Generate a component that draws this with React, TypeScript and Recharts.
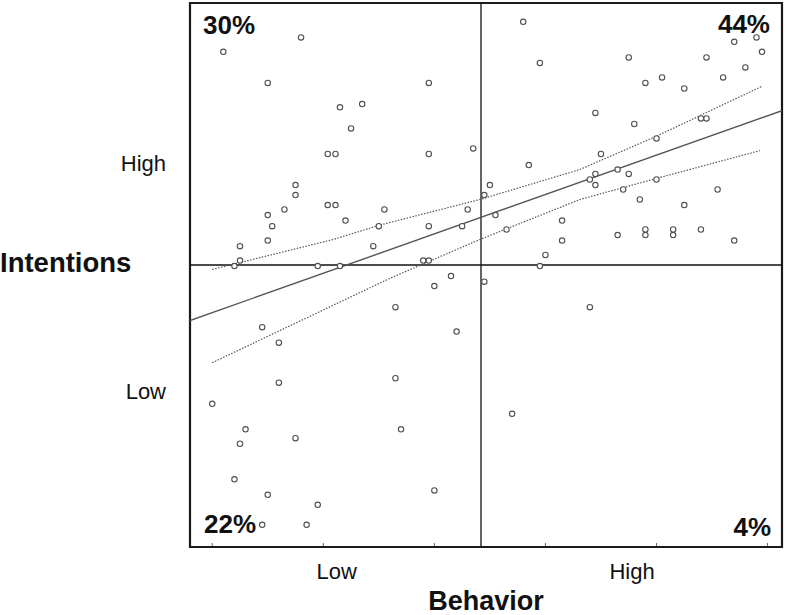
import {
  ScatterChart,
  Scatter,
  XAxis,
  YAxis,
  ReferenceArea,
  ReferenceLine,
} from 'recharts';

// ---------------------------------------------------------------------------
// Data (behavior score, intentions score), grouped by quadrant
// ---------------------------------------------------------------------------

const topLeft: [number, number][] = [
  [1.10, 5.26], [1.80, 5.39], [1.50, 4.98], [2.95, 4.98], [2.15, 4.76], [2.35, 4.79],
  [2.25, 4.57], [2.04, 4.34], [2.11, 4.34], [2.95, 4.34], [3.35, 4.39], [1.75, 4.06],
  [1.75, 3.97], [2.04, 3.88], [2.11, 3.88], [1.50, 3.79], [1.65, 3.84], [2.55, 3.84],
  [3.30, 3.84], [1.54, 3.69], [2.20, 3.74], [2.50, 3.69], [2.95, 3.69], [3.25, 3.69],
  [1.50, 3.56], [1.25, 3.51], [2.45, 3.51], [1.25, 3.38], [1.20, 3.33], [1.95, 3.33],
  [2.15, 3.33], [2.90, 3.38], [2.95, 3.38],
];

const topRight: [number, number][] = [
  [3.45, 3.97], [3.80, 5.53], [3.95, 5.16], [4.75, 5.21], [4.90, 4.98], [5.05, 5.03],
  [5.25, 4.93], [5.45, 5.21], [5.60, 5.03], [5.70, 5.35], [5.90, 5.39], [5.95, 5.26],
  [5.80, 5.12], [4.45, 4.71], [4.80, 4.61], [5.40, 4.66], [5.45, 4.66], [5.00, 4.48],
  [4.50, 4.34], [3.85, 4.24], [3.50, 4.06], [4.40, 4.11], [4.45, 4.16], [4.45, 4.06],
  [4.65, 4.20], [4.75, 4.16], [4.70, 4.02], [5.00, 4.11], [4.85, 3.93], [5.55, 4.02],
  [5.25, 3.88], [3.55, 3.79], [3.65, 3.66], [4.15, 3.74], [4.15, 3.56], [4.00, 3.43],
  [4.65, 3.61], [4.90, 3.66], [4.90, 3.61], [5.15, 3.66], [5.15, 3.61], [5.40, 3.66],
  [5.70, 3.56],
];

const bottomLeft: [number, number][] = [
  [3.15, 3.24], [3.00, 3.15], [2.65, 2.96], [3.20, 2.74], [1.45, 2.78], [1.60, 2.64],
  [1.60, 2.28], [2.65, 2.32], [1.00, 2.09], [1.30, 1.86], [1.25, 1.73], [1.75, 1.78],
  [2.70, 1.86], [1.20, 1.41], [1.50, 1.27], [1.95, 1.18], [3.00, 1.31], [1.45, 1.00],
  [1.85, 1.00],
];

const bottomRight: [number, number][] = [
  [3.45, 3.19], [3.95, 3.33], [4.40, 2.96], [3.70, 2.00],
];

// regression line and its confidence band
const fitX = [0.8, 6.13];
const fitY = [2.84, 4.73];
const upperX = [1.0, 2.09, 2.51, 3.41, 4.31, 5.0, 5.95];
const upperY = [3.30, 3.57, 3.70, 3.93, 4.20, 4.50, 4.95];
const lowerX = [1.0, 2.6, 3.41, 4.31, 5.0, 5.93];
const lowerY = [2.46, 3.22, 3.57, 3.93, 4.12, 4.37];

// axes
const xDomain = [0.8, 6.13];
const yDomain = [0.8, 5.7];
const xTickMarks = [1, 2, 3, 4, 5, 6];
const xLabelPos = [2.12, 4.78];
const xLabels = ['Low', 'High'];
const yLabelPos = [2.2, 4.26];
const yLabels = ['Low', 'High'];
const xSplit = 3.42;
const ySplit = 3.34;

// quadrant shares
const shareTL = '30%';
const shareTR = '44%';
const shareBL = '22%';
const shareBR = '4%';

// ---------------------------------------------------------------------------
// Helpers
// ---------------------------------------------------------------------------

const FONT = '"Liberation Sans", Arial, sans-serif';
const INK = '#111';
const MARK = '#555';

const toPoints = (pairs: [number, number][]) => pairs.map(([x, y]) => ({ x, y }));
const zip = (xs: number[], ys: number[]) => xs.map((x, i) => ({ x, y: ys[i] }));

const points = [
  ...toPoints(topLeft),
  ...toPoints(topRight),
  ...toPoints(bottomLeft),
  ...toPoints(bottomRight),
];

function OpenCircle({ cx, cy }: any) {
  if (cx == null || cy == null) return <g />;
  return <circle cx={cx} cy={cy} r={2.7} fill="#fff" stroke="#505050" strokeWidth={1.1} />;
}

const NoShape = () => <g />;

function BehaviorTick({ x, y, payload }: any) {
  const i = xLabelPos.indexOf(payload.value);
  if (i >= 0) {
    return (
      <text x={x} y={y + 32} textAnchor="middle" fontSize={22} fill={INK} fontFamily={FONT}>
        {xLabels[i]}
      </text>
    );
  }
  return <line x1={x} x2={x} y1={y - 1} y2={y - 4} stroke="#666" strokeWidth={1} />;
}

function IntentionsTick({ x, y, payload }: any) {
  const i = yLabelPos.indexOf(payload.value);
  if (i < 0) return <g />;
  return (
    <text x={x - 24} y={y} dy="0.36em" textAnchor="end" fontSize={22} fill={INK} fontFamily={FONT}>
      {yLabels[i]}
    </text>
  );
}

const quadLabel = (value: string, position: string, offset: number) => ({
  value,
  position,
  offset,
  fontSize: 26,
  fontWeight: 'bold',
  fill: INK,
  fontFamily: FONT,
});

// ---------------------------------------------------------------------------
// Component
// ---------------------------------------------------------------------------

export default function App() {
  return (
    <div style={{ position: 'absolute', left: 0, top: 0, background: '#fff' }}>
      <ScatterChart
        width={787}
        height={615}
        margin={{ top: 3, right: 5, bottom: 0, left: 0 }}
        style={{ fontFamily: FONT }}
      >
        <XAxis
          type="number"
          dataKey="x"
          domain={xDomain}
          allowDataOverflow
          ticks={[...xTickMarks, ...xLabelPos]}
          interval={0}
          tick={<BehaviorTick />}
          tickLine={false}
          axisLine={false}
          tickSize={0}
          tickMargin={0}
          height={68}
          label={(props: any) => {
            const vb = props.viewBox;
            return (
              <text
                x={vb.x + vb.width / 2}
                y={vb.y + vb.height - 5}
                textAnchor="middle"
                fontSize={27}
                fontWeight="bold"
                fill={INK}
                fontFamily={FONT}
              >
                Behavior
              </text>
            );
          }}
        />
        <YAxis
          type="number"
          dataKey="y"
          domain={yDomain}
          allowDataOverflow
          ticks={yLabelPos}
          interval={0}
          tick={<IntentionsTick />}
          tickLine={false}
          axisLine={false}
          tickSize={0}
          tickMargin={0}
          width={190}
          label={(props: any) => {
            const vb = props.viewBox;
            return (
              <text
                x={vb.x}
                y={vb.y + vb.height / 2 - 3}
                fontSize={27.5}
                fontWeight="bold"
                fill={INK}
                fontFamily={FONT}
              >
                Intentions
              </text>
            );
          }}
        />

        <ReferenceArea x1={xDomain[0]} x2={xSplit} y1={ySplit} y2={yDomain[1]} fill="none" stroke="none"
          label={quadLabel(shareTL, 'insideTopLeft', 13)} />
        <ReferenceArea x1={xSplit} x2={xDomain[1]} y1={ySplit} y2={yDomain[1]} fill="none" stroke="none"
          label={quadLabel(shareTR, 'insideTopRight', 12)} />
        <ReferenceArea x1={xDomain[0]} x2={xSplit} y1={yDomain[0]} y2={ySplit} fill="none" stroke="none"
          label={quadLabel(shareBL, 'insideBottomLeft', 14)} />
        <ReferenceArea x1={xSplit} x2={xDomain[1]} y1={yDomain[0]} y2={ySplit} fill="none" stroke="none"
          label={quadLabel(shareBR, 'insideBottomRight', 11)} />

        <ReferenceLine x={xSplit} stroke="#111" strokeWidth={1.3} />
        <ReferenceLine y={ySplit} stroke="#111" strokeWidth={1.3} />

        <Scatter
          data={zip(upperX, upperY)}
          line={{ stroke: MARK, strokeWidth: 1.2, strokeDasharray: '1.5 1.5' }}
          lineType="joint"
          shape={NoShape}
          isAnimationActive={false}
        />
        <Scatter
          data={zip(lowerX, lowerY)}
          line={{ stroke: MARK, strokeWidth: 1.2, strokeDasharray: '1.5 1.5' }}
          lineType="joint"
          shape={NoShape}
          isAnimationActive={false}
        />
        <Scatter
          data={zip(fitX, fitY)}
          line={{ stroke: MARK, strokeWidth: 1.4 }}
          lineType="joint"
          shape={NoShape}
          isAnimationActive={false}
        />
        <Scatter data={points} shape={OpenCircle} isAnimationActive={false} />

        <ReferenceArea
          x1={xDomain[0]}
          x2={xDomain[1]}
          y1={yDomain[0]}
          y2={yDomain[1]}
          fill="none"
          stroke="#1a1a1a"
          strokeWidth={2.2}
        />
      </ScatterChart>
    </div>
  );
}
